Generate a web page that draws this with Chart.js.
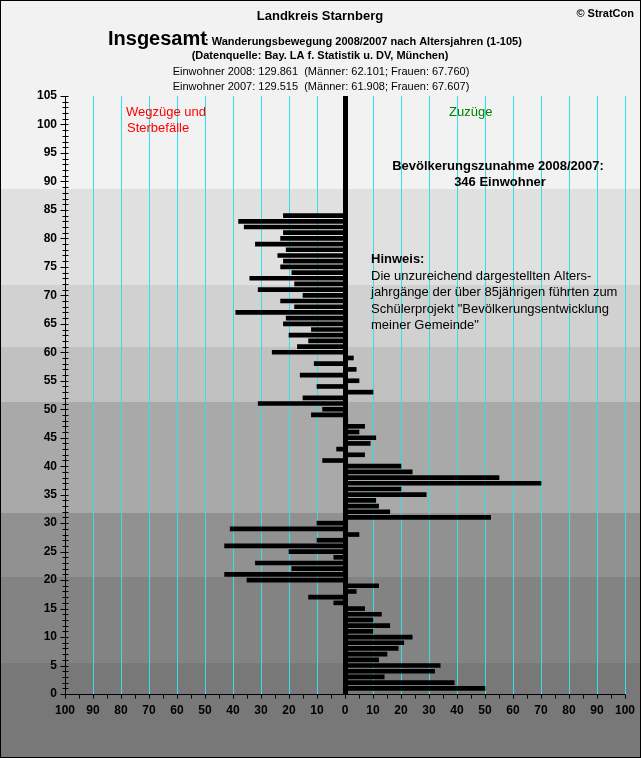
<!DOCTYPE html>
<html lang="de">
<head>
<meta charset="utf-8">
<title>Landkreis Starnberg - Wanderungsbewegung</title>
<script src="https://cdn.jsdelivr.net/npm/chart.js@4/dist/chart.umd.min.js"></script>
<style>
    html, body { margin: 0; padding: 0; background: #fff; }
    #wrap { width: 641px; height: 758px; position: relative; }
</style>
</head>
<body>
<div id="wrap"><canvas id="migrationChart" width="641" height="758"></canvas></div>
<script>
// ==========================================
// Data
// ==========================================
const ages = Array.from({ length: 84 }, (_, i) => i + 1);

// net migration per age year; negative = Wegzüge/Sterbefälle, positive = Zuzüge
const netValues = [
    50, 39, 14, 32, 34, 12, 15, 19, 21, 24,     // 1-10
    10, 16, 10, 13, 7, -4, -13, 4, 12, -35,     // 11-20
    -43, -19, -32, -4, -20, -43, -10, 5, -41, -10, // 21-30
    52, 16, 12, 11, 29, 20, 70, 55, 24, 20,     // 31-40
    -8, 7, -3, 9, 11, 5, 7, 1, -12, -8,         // 41-50
    -31, -15, 10, -10, 5, -16, 4, -11, 3, -26,  // 51-60
    -17, -13, -20, -12, -22, -21, -39, -18, -23, -15, // 61-70
    -31, -18, -34, -19, -23, -22, -24, -21, -32, -23, // 71-80
    -22, -36, -38, -22                          // 81-84
];

const xTickValues = [-100, -90, -80, -70, -60, -50, -40, -30, -20, -10, 0, 10, 20, 30, 40, 50, 60, 70, 80, 90, 100];

// background age bands (upper limits) and their shades
const bandLimits = [88.7, 71.9, 60.85, 51.2, 31.7, 20.6, 5.45];
const bandColors = ['#f2f2f2', '#e0e0e0', '#d1d1d1', '#c1c1c1', '#a9a9a9', '#919191', '#838383', '#787878'];

const FONT = '"Liberation Sans", Arial, sans-serif';
const CYAN = '#33e0e6';

// ==========================================
// Plugins
// ==========================================
const bandsPlugin = {
    id: 'bands',
    beforeDraw(chart) {
        const ctx = chart.ctx;
        const y = chart.scales.y;
        const W = chart.width, H = chart.height;
        let top = 0;
        ctx.save();
        bandLimits.forEach((lim, i) => {
            const py = Math.round(y.getPixelForValue(lim));
            ctx.fillStyle = bandColors[i];
            ctx.fillRect(0, top, W, py - top);
            top = py;
        });
        ctx.fillStyle = bandColors[bandColors.length - 1];
        ctx.fillRect(0, top, W, H - top);
        ctx.restore();
    },
    beforeDatasetsDraw(chart) {
        // cyan vertical grid lines every 10
        const ctx = chart.ctx;
        const a = chart.chartArea;
        const xs = chart.scales.x;
        ctx.save();
        ctx.strokeStyle = CYAN;
        ctx.lineWidth = 1;
        ctx.beginPath();
        xTickValues.forEach(v => {
            if (v === 0 || v === -100) return;
            const px = Math.round(xs.getPixelForValue(v)) + 0.5;
            ctx.moveTo(px, a.top);
            ctx.lineTo(px, a.bottom);
        });
        ctx.stroke();
        ctx.restore();
    }
};

const axesPlugin = {
    id: 'axesDecor',
    afterDatasetsDraw(chart) {
        const ctx = chart.ctx;
        const a = chart.chartArea;
        const xs = chart.scales.x, ys = chart.scales.y;
        ctx.save();
        ctx.strokeStyle = '#000';
        ctx.lineWidth = 1;

        // y axis with a tick per age year
        const yx = Math.round(a.left) + 0.5;
        ctx.beginPath();
        ctx.moveTo(yx, a.top);
        ctx.lineTo(yx, a.bottom);
        for (let v = 0; v <= 105; v++) {
            const py = Math.round(ys.getPixelForValue(v)) + 0.5;
            ctx.moveTo(yx - (v % 5 === 0 ? 5 : 3), py);
            ctx.lineTo(yx + 3, py);
        }
        ctx.stroke();

        // x axis with ticks every 5
        const xy = Math.round(a.bottom) + 0.5;
        ctx.beginPath();
        ctx.moveTo(a.left, xy);
        ctx.lineTo(a.right, xy);
        for (let v = -100; v <= 100; v += 5) {
            const px = Math.round(xs.getPixelForValue(v)) + 0.5;
            ctx.moveTo(px, xy);
            ctx.lineTo(px, xy + 4);
        }
        ctx.stroke();

        // thick zero line
        const zx = Math.round(xs.getPixelForValue(0));
        ctx.fillStyle = '#000';
        ctx.fillRect(zx - 2, a.top, 5, a.bottom - a.top);

        // frame
        ctx.strokeRect(0.5, 0.5, chart.width - 1, chart.height - 1);
        ctx.restore();
    }
};

const textPlugin = {
    id: 'texts',
    afterDraw(chart) {
        const ctx = chart.ctx;
        ctx.save();
        ctx.textBaseline = 'middle';
        ctx.fillStyle = '#000';

        ctx.textAlign = 'center';
        ctx.font = 'bold 13px ' + FONT;
        ctx.fillText('Landkreis Starnberg', 320, 16);

        ctx.textAlign = 'right';
        ctx.font = 'bold 11px ' + FONT;
        ctx.fillText('\u00a9 StratCon', 634, 14);

        ctx.textAlign = 'left';
        ctx.font = 'bold 20px ' + FONT;
        ctx.fillText('Insgesamt', 108, 39);
        ctx.font = 'bold 11px ' + FONT;
        ctx.fillText(': Wanderungsbewegung 2008/2007 nach Altersjahren (1-105)', 205, 42);

        ctx.textAlign = 'center';
        ctx.fillText('(Datenquelle: Bay. LA f. Statistik u. DV, M\u00fcnchen)', 320, 56);
        ctx.font = '11px ' + FONT;
        ctx.fillText('Einwohner 2008: 129.861  (M\u00e4nner: 62.101; Frauen: 67.760)', 321, 72);
        ctx.fillText('Einwohner 2007: 129.515  (M\u00e4nner: 61.908; Frauen: 67.607)', 321, 87);

        ctx.textAlign = 'left';
        ctx.font = '13px ' + FONT;
        ctx.fillStyle = '#ff0000';
        ctx.fillText('Wegz\u00fcge und', 126, 112);
        ctx.fillText('Sterbef\u00e4lle', 127, 128);
        ctx.fillStyle = '#008000';
        ctx.fillText('Zuz\u00fcge', 449, 112);

        ctx.fillStyle = '#000';
        ctx.textAlign = 'center';
        ctx.font = 'bold 13px ' + FONT;
        ctx.fillText('Bev\u00f6lkerungszunahme 2008/2007:', 498, 166);
        ctx.fillText('346 Einwohner', 500, 182);

        ctx.textAlign = 'left';
        ctx.fillText('Hinweis:', 371, 259);
        ctx.font = '13px ' + FONT;
        const note = [
            'Die unzureichend dargestellten Alters-',
            'jahrg\u00e4nge der \u00fcber 85j\u00e4hrigen f\u00fchrten zum',
            'Sch\u00fclerprojekt "Bev\u00f6lkerungsentwicklung',
            'meiner Gemeinde"'
        ];
        note.forEach((line, i) => ctx.fillText(line, 371, 276 + i * 16.5));
        ctx.restore();
    }
};

// ==========================================
// Chart
// ==========================================
new Chart(document.getElementById('migrationChart'), {
    type: 'bar',
    data: {
        datasets: [{
            label: 'Saldo',
            data: ages.map((age, i) => ({ x: netValues[i], y: age })),
            backgroundColor: '#000',
            borderWidth: 0,
            barThickness: 4
        }]
    },
    options: {
        indexAxis: 'y',
        responsive: false,
        animation: false,
        layout: { padding: { top: 96, right: 16, left: 0, bottom: 0 } },
        plugins: {
            legend: { display: false },
            tooltip: { enabled: false }
        },
        scales: {
            x: {
                type: 'linear',
                min: -100,
                max: 100,
                afterBuildTicks(scale) {
                    scale.ticks = xTickValues.map(v => ({ value: v }));
                },
                afterFit(scale) {
                    scale.height = 64;
                    // keep the end labels from shrinking the plot
                    scale.paddingLeft = 0;
                    scale.paddingRight = 0;
                },
                grid: { display: false, drawTicks: false },
                border: { display: false },
                ticks: {
                    padding: 9,
                    color: '#000',
                    font: { family: FONT, size: 12, weight: 'bold' },
                    callback: v => Math.abs(v)
                }
            },
            y: {
                type: 'linear',
                min: 0,
                max: 105,
                offset: false,
                afterFit(scale) {
                    scale.width = 65;
                    scale.paddingTop = 0;
                    scale.paddingBottom = 0;
                },
                grid: { display: false, drawTicks: false, offset: false },
                border: { display: false },
                ticks: {
                    stepSize: 5,
                    padding: 8,
                    color: '#000',
                    font: { family: FONT, size: 12, weight: 'bold' }
                }
            }
        }
    },
    plugins: [bandsPlugin, axesPlugin, textPlugin]
});
</script>
</body>
</html>
